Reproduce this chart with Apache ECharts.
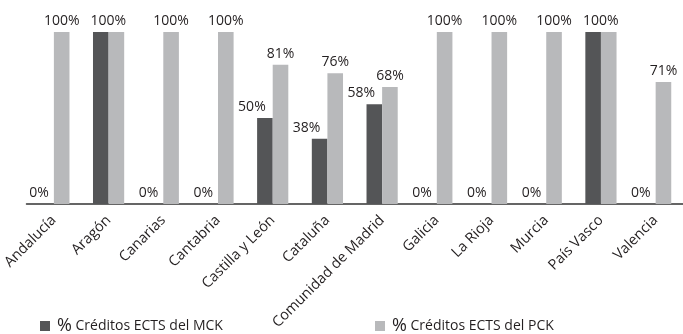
<!DOCTYPE html>
<html>
<head>
<meta charset="utf-8">
<script src="https://cdn.jsdelivr.net/npm/echarts@6/dist/echarts.min.js"></script>
<style>
  html, body { margin: 0; padding: 0; background: #fff; }
  #chart { width: 683px; height: 334px; }
</style>
</head>
<body>
<div id="chart"></div>
<script>
// categorías (comunidades autónomas)
const regiones = ['Andalucía', 'Aragón', 'Canarias', 'Cantabria', 'Castilla y León', 'Cataluña',
  'Comunidad de Madrid', 'Galicia', 'La Rioja', 'Murcia', 'País Vasco', 'Valencia']

// % créditos ECTS
const mck = [0, 100, 0, 0, 50, 38, 58, 0, 0, 0, 100, 0]
const pck = [100, 100, 100, 100, 81, 76, 68, 100, 100, 100, 100, 71]

const nombreMCK = '% Créditos ECTS del MCK'
const nombrePCK = '% Créditos ECTS del PCK'

const txt = '#231f20'
const fuente = 'Open Sans'

// si las dos barras valen 100, solo se ve una etiqueta centrada en el par
const datosMCK = mck.map((v, i) => ({
  value: v,
  label: (v === 100 && pck[i] === 100) ? { show: false } : { offset: [v === 0 ? -7 : -13, 0] }
}))
const datosPCK = pck.map((v, i) => ({
  value: v,
  label: (v === 100 && mck[i] === 100) ? { offset: [-8, 0] } : {}
}))

const etiqueta = {
  show: true,
  position: 'top',
  distance: 4,
  formatter: '{c}%',
  color: txt,
  fontFamily: fuente,
  fontSize: 14
}

const leyenda = (nombre, left) => ({
  data: [nombre],
  left: left,
  top: 312,
  itemWidth: 10,
  itemHeight: 10,
  icon: 'rect',
  formatter: n => '{p|%}' + n.slice(1),
  textStyle: {
    color: txt,
    fontFamily: fuente,
    fontSize: 14,
    padding: [0, 0, 0, 2],
    rich: { p: { fontSize: 18, fontFamily: fuente, color: txt } }
  }
})

const chart = echarts.init(document.getElementById('chart'), null, { renderer: 'canvas' })

chart.setOption({
  animation: false,
  backgroundColor: '#fff',
  legend: [leyenda(nombreMCK, 35), leyenda(nombrePCK, 370)],
  grid: { left: 24, top: 32, width: 665, height: 172 },
  xAxis: {
    type: 'category',
    data: regiones,
    axisLine: { lineStyle: { color: '#333', width: 1.5 } },
    axisTick: { show: false },
    axisLabel: {
      rotate: 45,
      margin: 14,
      interval: 0,
      color: txt,
      fontFamily: fuente,
      fontSize: 14.5
    }
  },
  yAxis: { type: 'value', min: 0, max: 100, show: false, splitLine: { show: false } },
  series: [
    {
      name: nombreMCK,
      type: 'bar',
      barWidth: 15.6,
      barGap: 0,
      itemStyle: { color: '#545557' },
      label: etiqueta,
      data: datosMCK
    },
    {
      name: nombrePCK,
      type: 'bar',
      barWidth: 15.6,
      barGap: 0,
      itemStyle: { color: '#b8b9bb' },
      label: etiqueta,
      data: datosPCK
    }
  ]
})
</script>
</body>
</html>
